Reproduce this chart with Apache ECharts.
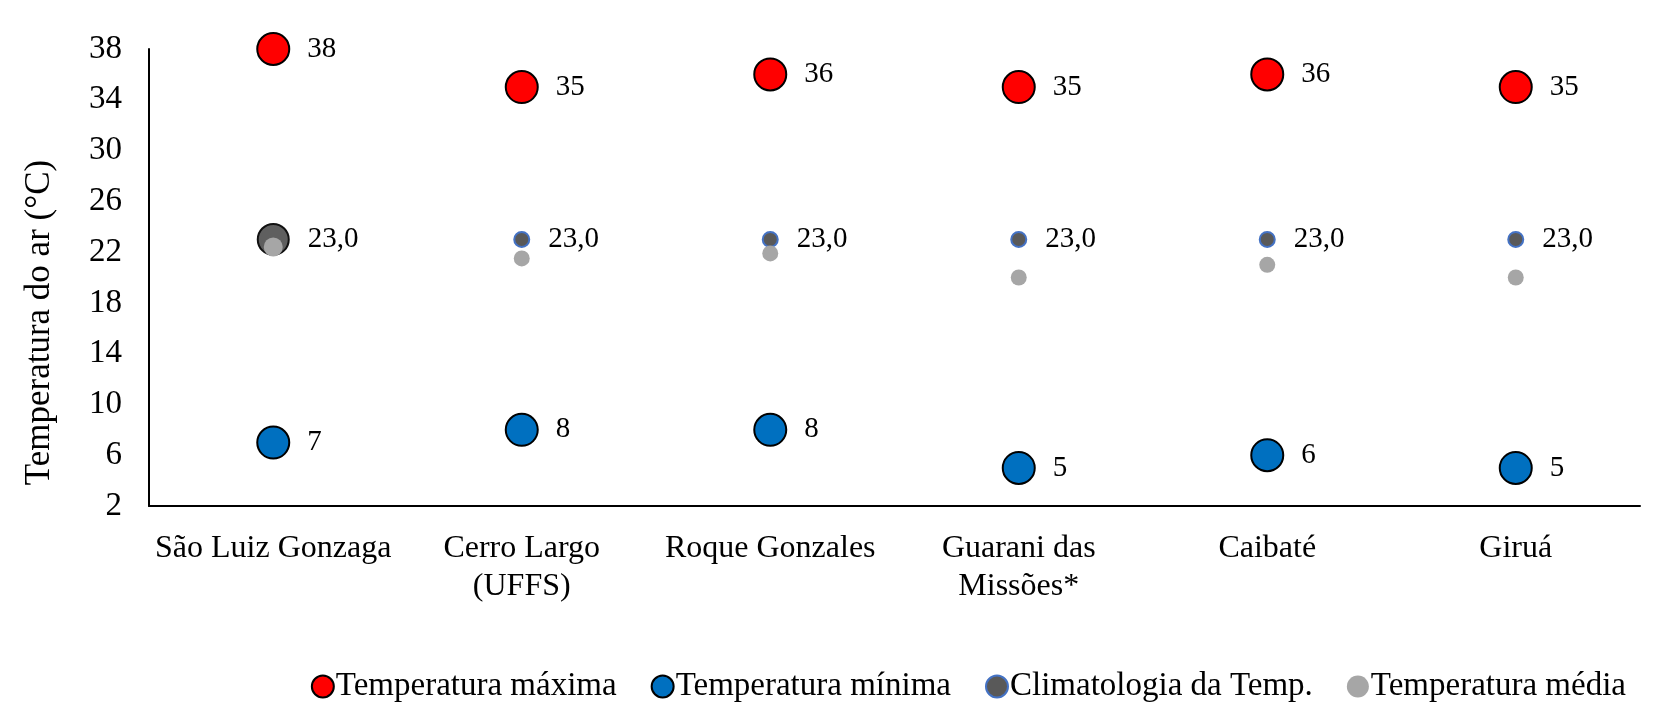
<!DOCTYPE html>
<html>
<head>
<meta charset="utf-8">
<script src="https://cdn.jsdelivr.net/npm/echarts@6/dist/echarts.min.js"></script>
<style>html,body{margin:0;padding:0;background:#fff}#c{width:1659px;height:725px}</style>
</head>
<body>
<div id="c"></div>
<script>
const categories = ['São Luiz Gonzaga', 'Cerro Largo\n(UFFS)', 'Roque Gonzales', 'Guarani das\nMissões*', 'Caibaté', 'Giruá'];
const tempMax = [38, 35, 36, 35, 36, 35];
const tempMin = [7, 8, 8, 5, 6, 5];
const climatologia = [23.0, 23.0, 23.0, 23.0, 23.0, 23.0];
const tempMedia = [22.4, 21.5, 21.9, 20.0, 21.0, 20.0];
const yTicks = [2, 6, 10, 14, 18, 22, 26, 30, 34, 38];

const FONT = "'Liberation Serif', 'Times New Roman', serif";
const chart = echarts.init(document.getElementById('c'));
const labelStyle = {show: true, position: 'right', distance: 17, color: '#000', fontFamily: FONT, fontSize: 29, padding: [5, 0, 0, 0]};

chart.setOption({
  animation: false,
  textStyle: {fontFamily: FONT},
  grid: {left: 149, right: 19, top: 49, bottom: 219},
  legend: {
    right: 28, top: 665,
    icon: 'circle', itemWidth: 22, itemHeight: 22, itemGap: 34,
    textStyle: {fontFamily: FONT, fontSize: 33, color: '#000', padding: [0, 0, 0, -3]},
    data: ['Temperatura máxima', 'Temperatura mínima', 'Climatologia da Temp.', 'Temperatura média']
  },
  xAxis: {
    type: 'category', data: categories, boundaryGap: true,
    axisLine: {lineStyle: {color: '#000', width: 2}},
    axisTick: {show: false},
    axisLabel: {color: '#000', fontFamily: FONT, fontSize: 32, margin: 24, lineHeight: 38, interval: 0}
  },
  yAxis: {
    type: 'value', min: yTicks[0], max: yTicks[yTicks.length - 1], interval: 4,
    name: 'Temperatura do ar (°C)', nameLocation: 'middle', nameGap: 92, nameRotate: 90,
    nameTextStyle: {color: '#000', fontFamily: FONT, fontSize: 35, padding: [0, 90, 0, 0]},
    axisLine: {show: true, lineStyle: {color: '#000', width: 2}},
    axisTick: {show: false},
    splitLine: {show: false},
    axisLabel: {color: '#000', fontFamily: FONT, fontSize: 33, margin: 27}
  },
  series: [
    {
      name: 'Temperatura máxima', type: 'scatter', data: tempMax, symbolSize: 32,
      itemStyle: {color: '#FF0000', borderColor: '#000', borderWidth: 2, opacity: 1},
      label: labelStyle
    },
    {
      name: 'Temperatura mínima', type: 'scatter', data: tempMin, symbolSize: 32,
      itemStyle: {color: '#0070C0', borderColor: '#000', borderWidth: 2, opacity: 1},
      label: labelStyle
    },
    {
      name: 'Climatologia da Temp.', type: 'scatter', symbolSize: 15,
      data: climatologia.map((v, i) => i === 0
        ? {value: v, symbolSize: 31, itemStyle: {color: '#5F5F5F', borderColor: '#111', borderWidth: 2}}
        : {value: v}),
      itemStyle: {color: '#595959', borderColor: '#4472C4', borderWidth: 2, opacity: 1},
      label: Object.assign({}, labelStyle, {
        formatter: p => p.value.toFixed(1).replace('.', ','),
        distance: 18
      })
    },
    {
      name: 'Temperatura média', type: 'scatter', symbolSize: 16,
      data: tempMedia.map((v, i) => i === 0 ? {value: v, symbolSize: 19} : {value: v}),
      itemStyle: {color: '#A6A6A6', opacity: 1}
    }
  ]
});
</script>
</body>
</html>
